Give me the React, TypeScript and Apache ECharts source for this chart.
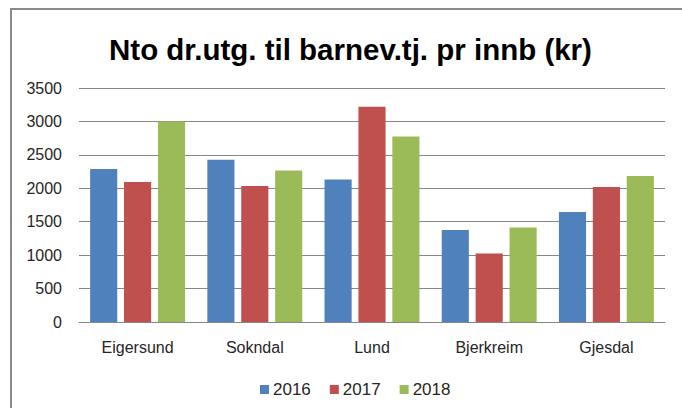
import React, { useEffect, useRef } from "react";
import * as echarts from "echarts";

const categories = ["Eigersund", "Sokndal", "Lund", "Bjerkreim", "Gjesdal"];
const years = ["2016", "2017", "2018"];
const values2016 = [2290, 2425, 2130, 1375, 1645];
const values2017 = [2095, 2035, 3220, 1025, 2020];
const values2018 = [3000, 2265, 2775, 1415, 2185];
const colors = ["#4F81BD", "#C0504D", "#9BBB59"];
const titleText = "Nto dr.utg. til barnev.tj. pr innb (kr)";

const FONT = "'Liberation Sans', Arial, sans-serif";

export default function App() {
  const ref = useRef<HTMLDivElement>(null);
  useEffect(() => {
    if (!ref.current) return;
    const chart = echarts.init(ref.current, undefined, { renderer: "svg" });
    const seriesData = [values2016, values2017, values2018];
    chart.setOption({
      animation: false,
      backgroundColor: "#ffffff",
      title: {
        text: titleText,
        left: 104,
        top: 29,
        textStyle: { fontFamily: FONT, fontSize: 29.5, fontWeight: "bold", color: "#000000" },
      },
      graphic: [
        {
          type: "rect",
          silent: true,
          shape: { x: 11, y: 9, width: 700, height: 450 },
          style: { fill: "none", stroke: "#8a8a8a", lineWidth: 2 },
        },
      ],
      legend: {
        data: years,
        left: 255,
        top: 376,
        itemWidth: 9,
        itemHeight: 9,
        itemGap: 19,
        icon: "rect",
        textStyle: { fontFamily: FONT, fontSize: 17, color: "#262626", padding: [0, 0, 0, -1] },
      },
      grid: { left: 79, right: 17, top: 88, bottom: 86, containLabel: false },
      xAxis: {
        type: "category",
        data: categories,
        axisTick: { show: false },
        axisLine: { lineStyle: { color: "#868686", width: 1 } },
        axisLabel: { fontFamily: FONT, fontSize: 16, color: "#262626", margin: 17 },
      },
      yAxis: {
        type: "value",
        min: 0,
        max: 3500,
        interval: 500,
        axisLine: { show: false },
        axisTick: { show: false },
        axisLabel: {
          fontFamily: FONT,
          fontSize: 16,
          color: "#262626",
          margin: 17,
          formatter: (v: number) => String(v),
        },
        splitLine: { lineStyle: { color: "#868686", width: 1 } },
      },
      series: years.map((y, i) => ({
        name: y,
        type: "bar",
        data: seriesData[i],
        barGap: "25%",
        barCategoryGap: "19%",
        itemStyle: { color: colors[i] },
      })),
    });
    return () => chart.dispose();
  }, []);
  return (
    <div
      ref={ref}
      style={{ position: "fixed", left: 0, top: 0, width: 682, height: 408 }}
    />
  );
}
